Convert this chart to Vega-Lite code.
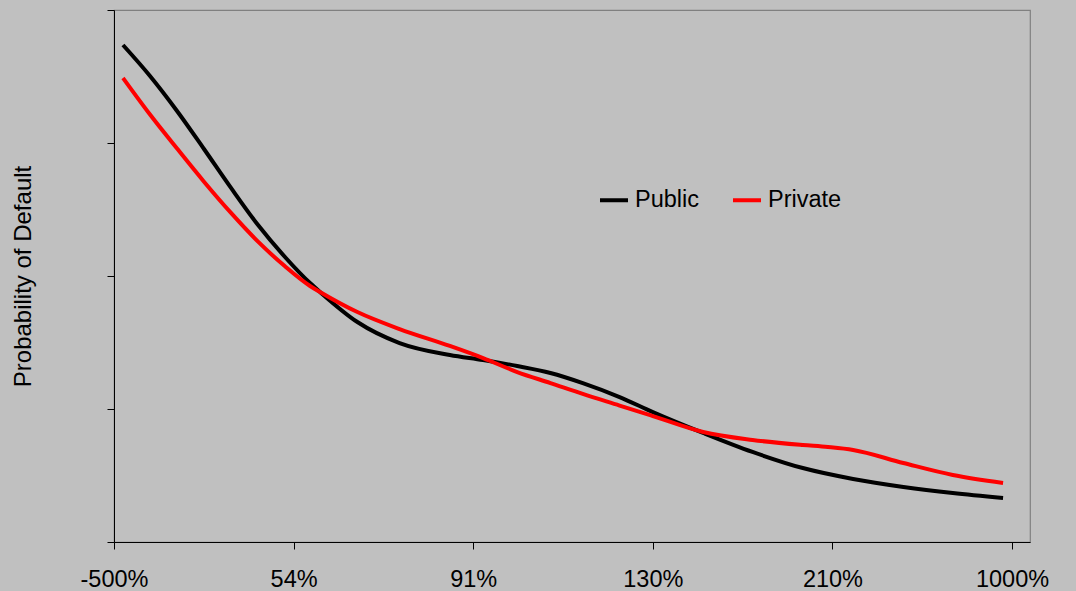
{
  "$schema": "https://vega.github.io/schema/vega-lite/v6.json",
  "width": 916,
  "height": 532,
  "autosize": "none",
  "padding": {"left": 114, "top": 10, "right": 46, "bottom": 49},
  "background": "#C0C0C0",
  "config": {
    "font": "Liberation Sans",
    "view": {"stroke": "#808080", "strokeWidth": 1.2, "fill": "#C0C0C0"}
  },
  "data": {
    "values": [
      {"x": 1.0, "series": "Public", "pd": 3.737},
      {"x": 4.01, "series": "Public", "pd": 3.504},
      {"x": 7.02, "series": "Public", "pd": 3.241},
      {"x": 10.02, "series": "Public", "pd": 2.955},
      {"x": 13.03, "series": "Public", "pd": 2.662},
      {"x": 16.04, "series": "Public", "pd": 2.383},
      {"x": 19.04, "series": "Public", "pd": 2.143},
      {"x": 21.83, "series": "Public", "pd": 1.947},
      {"x": 22.94, "series": "Public", "pd": 1.880},
      {"x": 27.1, "series": "Public", "pd": 1.654},
      {"x": 31.8, "series": "Public", "pd": 1.496},
      {"x": 37.4, "series": "Public", "pd": 1.406},
      {"x": 41.1, "series": "Public", "pd": 1.368},
      {"x": 44.9, "series": "Public", "pd": 1.323},
      {"x": 48.6, "series": "Public", "pd": 1.271},
      {"x": 52.2, "series": "Public", "pd": 1.195},
      {"x": 56.3, "series": "Public", "pd": 1.090},
      {"x": 60.0, "series": "Public", "pd": 0.977},
      {"x": 65.6, "series": "Public", "pd": 0.820},
      {"x": 71.1, "series": "Public", "pd": 0.677},
      {"x": 76.7, "series": "Public", "pd": 0.556},
      {"x": 82.3, "series": "Public", "pd": 0.474},
      {"x": 87.9, "series": "Public", "pd": 0.414},
      {"x": 93.4, "series": "Public", "pd": 0.368},
      {"x": 99.0, "series": "Public", "pd": 0.331},
      {"x": 1.0, "series": "Private", "pd": 3.489},
      {"x": 4.01, "series": "Private", "pd": 3.214},
      {"x": 7.02, "series": "Private", "pd": 2.958},
      {"x": 10.02, "series": "Private", "pd": 2.709},
      {"x": 13.03, "series": "Private", "pd": 2.474},
      {"x": 16.04, "series": "Private", "pd": 2.258},
      {"x": 19.04, "series": "Private", "pd": 2.073},
      {"x": 21.83, "series": "Private", "pd": 1.925},
      {"x": 22.94, "series": "Private", "pd": 1.880},
      {"x": 27.1, "series": "Private", "pd": 1.729},
      {"x": 31.8, "series": "Private", "pd": 1.601},
      {"x": 37.4, "series": "Private", "pd": 1.474},
      {"x": 41.1, "series": "Private", "pd": 1.383},
      {"x": 44.9, "series": "Private", "pd": 1.278},
      {"x": 48.6, "series": "Private", "pd": 1.195},
      {"x": 52.2, "series": "Private", "pd": 1.113},
      {"x": 56.3, "series": "Private", "pd": 1.026},
      {"x": 60.0, "series": "Private", "pd": 0.947},
      {"x": 65.6, "series": "Private", "pd": 0.827},
      {"x": 71.1, "series": "Private", "pd": 0.767},
      {"x": 76.7, "series": "Private", "pd": 0.729},
      {"x": 79.5, "series": "Private", "pd": 0.714},
      {"x": 82.3, "series": "Private", "pd": 0.692},
      {"x": 87.9, "series": "Private", "pd": 0.594},
      {"x": 93.4, "series": "Private", "pd": 0.504},
      {"x": 99.0, "series": "Private", "pd": 0.444}
    ]
  },
  "mark": {"type": "line", "interpolate": "monotone", "strokeWidth": 4, "strokeCap": "butt"},
  "encoding": {
    "x": {
      "field": "x",
      "type": "quantitative",
      "scale": {"domain": [0, 102], "nice": false, "zero": false},
      "axis": {
        "values": [0, 20, 40, 60, 80, 100],
        "labelExpr": "datum.value == 0 ? '-500%' : datum.value == 20 ? '54%' : datum.value == 40 ? '91%' : datum.value == 60 ? '130%' : datum.value == 80 ? '210%' : '1000%'",
        "title": null,
        "grid": false,
        "domainColor": "#000000",
        "tickColor": "#000000",
        "tickSize": 7,
        "labelFontSize": 23.5,
        "labelColor": "#000000",
        "labelPadding": 18,
        "labelDx": 6,
        "labelFlush": false,
        "labelOverlap": false
      }
    },
    "y": {
      "field": "pd",
      "type": "quantitative",
      "scale": {"domain": [0, 4], "nice": false},
      "axis": {
        "values": [0, 1, 2, 3, 4],
        "labels": false,
        "title": "Probability of Default",
        "titleFontSize": 24,
        "titleFontWeight": "normal",
        "titleColor": "#000000",
        "titlePadding": 71,
        "grid": false,
        "domainColor": "#000000",
        "tickColor": "#000000",
        "tickSize": 7
      }
    },
    "color": {
      "field": "series",
      "type": "nominal",
      "sort": ["Public", "Private"],
      "scale": {"domain": ["Public", "Private"], "range": ["#000000", "#FF0000"]},
      "legend": {
        "title": null,
        "orient": "none",
        "direction": "horizontal",
        "legendX": 484,
        "legendY": 174,
        "symbolType": "stroke",
        "symbolSize": 784,
        "symbolStrokeWidth": 4,
        "labelFontSize": 23.5,
        "labelColor": "#000000",
        "labelOffset": 5,
        "columnPadding": 25,
        "padding": 0
      }
    }
  }
}
